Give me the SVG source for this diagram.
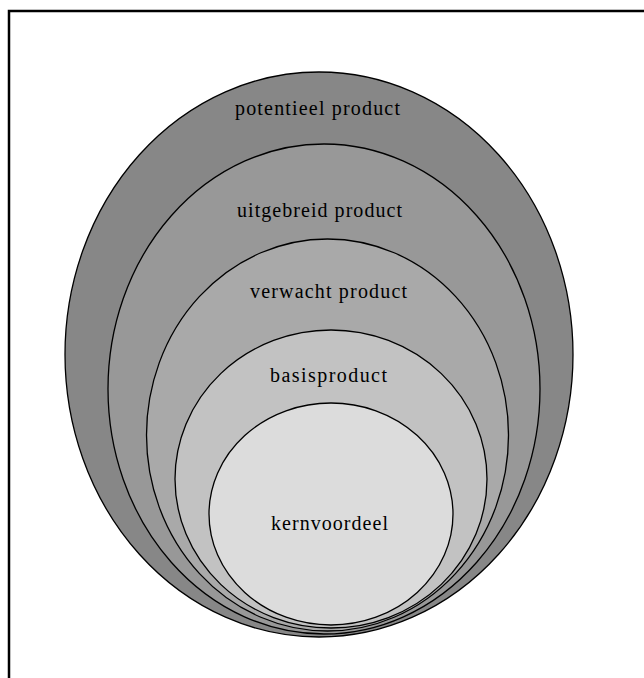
<svg xmlns="http://www.w3.org/2000/svg" width="644" height="678" viewBox="0 0 644 678">
<style>
.ring{stroke:#000;stroke-width:1.3}
.lbl{font-family:"Liberation Serif","Times New Roman",serif;font-size:20px;fill:#000;text-anchor:middle}
</style>
<rect width="644" height="678" fill="#fff"/>
<path d="M9 678 V11 H644" fill="none" stroke="#000" stroke-width="2.5"/>
<g id="potentieel">
<ellipse class="ring" cx="319" cy="354.5" rx="254" ry="282.5" fill="#878787"/>
<text class="lbl" x="317.5" y="115" textLength="165">potentieel product</text>
</g>
<g id="uitgebreid">
<ellipse class="ring" cx="324" cy="389" rx="216" ry="245" fill="#989898"/>
<text class="lbl" x="319.5" y="217" textLength="165">uitgebreid product</text>
</g>
<g id="verwacht">
<ellipse class="ring" cx="327.5" cy="435" rx="181" ry="196" fill="#a9a9a9"/>
<text class="lbl" x="328.5" y="298" textLength="157">verwacht product</text>
</g>
<g id="basis">
<ellipse class="ring" cx="331" cy="479" rx="156" ry="149" fill="#c2c2c2"/>
<text class="lbl" x="328.5" y="382" textLength="117">basisproduct</text>
</g>
<g id="kern">
<ellipse class="ring" cx="331" cy="514" rx="122" ry="111" fill="#dcdcdc"/>
<text class="lbl" x="329.5" y="530" textLength="117">kernvoordeel</text>
</g>
<g id="connectors"/>
</svg>
